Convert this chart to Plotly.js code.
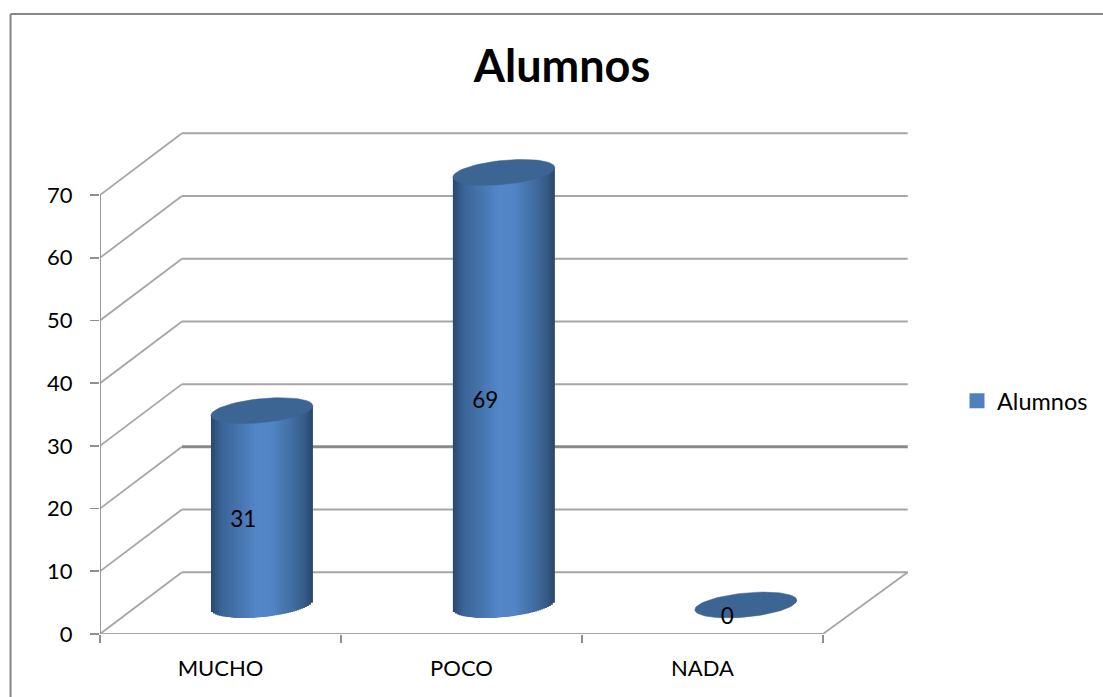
<!DOCTYPE html>
<html><head><meta charset="utf-8">
<script src="https://cdn.plot.ly/plotly-3.0.1.min.js"></script>
<style>html,body{margin:0;padding:0;background:#fff;overflow:hidden}#c{width:1103px;height:697px}</style>
</head><body><div id="c"></div>
<script>
var categories = ["MUCHO", "POCO", "NADA"];
var seriesName = "Alumnos";
var values = [31, 69, 0];
var yTicks = [0, 10, 20, 30, 40, 50, 60, 70];
var heavyGrid = [20];

// layout of the pseudo-3D box, in data units
var depthX = 0.34, depthXRight = 0.352, depthY = 9.85;
var cylA = 0.2116, cylB = 1.92, cylK = 0.75;
var xMax = 3.353, yMax = 80.38;
var gridColor = "#a6a6a6", axisColor = "#8f8f8f", font = "Lato, Carlito, sans-serif";
var stops = [[-1,[40,72,110]],[-0.8,[58,100,150]],[-0.5,[68,114,170]],[-0.1,[83,135,200]],[0.2,[81,133,197]],[0.6,[65,109,160]],[0.85,[53,90,133]],[1,[40,70,105]]];

function shade(u){
  for (var i=1;i<stops.length;i++){ if(u<=stops[i][0]){
    var t=(u-stops[i-1][0])/(stops[i][0]-stops[i-1][0]), a=stops[i-1][1], b=stops[i][1];
    return "rgb("+a.map(function(v,j){return Math.round(v+(b[j]-v)*t);}).join(",")+")";
  }}
  return "rgb(40,70,105)";
}
var shapes = [];
function seg(x0,y0,x1,y1,c,w){ shapes.push({type:"line",xref:"x",yref:"y",layer:"below",x0:x0,y0:y0,x1:x1,y1:y1,line:{color:c,width:w}}); }
yTicks.forEach(function(v){
  var heavy = heavyGrid.indexOf(v)>=0;
  seg(0,v,depthX,v+depthY,gridColor,1.8);
  seg(depthX,v+depthY,categories.length+depthXRight,v+depthY,heavy?"#8a8a8a":gridColor,heavy?3:2);
});
seg(0,0,categories.length,0,gridColor,2);
seg(categories.length,0,categories.length+depthXRight,depthY,gridColor,1.8);
seg(0,0,0,yTicks[yTicks.length-1],axisColor,1.8);
// outer chart border
shapes.push({type:"line",xref:"paper",yref:"paper",x0:-0.1107,x1:1.25,y0:1.2302,y1:1.2302,line:{color:"#868686",width:2}});
shapes.push({type:"line",xref:"paper",yref:"paper",x0:-0.1107,x1:-0.1107,y0:1.2302,y1:-0.13,line:{color:"#868686",width:2}});

var traces = [], N = 51, U0 = -0.4;
values.forEach(function(v,i){
  var cx = i*1.004+0.672, cy = depthY/2 - 0.3;
  if (v>0){
    // strips are painted from both outer edges toward the lowest point of the base, each covering the next
    var order=[];
    for (var s=0;s<N;s++) order.push(-1+(s+0.5)*2/N);
    order.sort(function(a,b){return Math.abs(b-U0)-Math.abs(a-U0);});
    var xs=[],ys=[],bs=[],cs=[],ws=[];
    order.forEach(function(u){
      var outer = u<U0 ? u-1/N : u+1/N, lo=Math.min(outer,U0), hi=Math.max(outer,U0);
      var base=cy+cylK*u-cylB*Math.sqrt(1-u*u);
      xs.push(cx+cylA*(lo+hi)/2); ws.push(cylA*(hi-lo)); bs.push(base); ys.push(cy+v+cylK*u-base); cs.push(shade(u));
    });
    traces.push({type:"bar",x:xs,y:ys,base:bs,width:ws,marker:{color:cs,line:{width:0}},showlegend:false,hoverinfo:"skip"});
  }
  var ex=[],ey=[];
  for (var k=0;k<=72;k++){
    var t=k/72*2*Math.PI, c=Math.cos(t);
    ex.push(cx+cylA*c); ey.push(cy+v+cylK*c+cylB*Math.sin(t));
  }
  traces.push({type:"scatter",mode:"lines",x:ex,y:ey,fill:"toself",fillcolor:"#3c6594",line:{color:"#3c6594",width:0.5},showlegend:false,hoverinfo:"skip"});
});
traces.push({type:"scatter",mode:"text",x:values.map(function(v,i){return i*1.004+0.595;}),y:values.map(function(v){return v/2+2.5;}),
  text:values.map(String),textfont:{family:font,size:22.5,color:"#000"},textposition:"middle center",showlegend:false,hoverinfo:"skip",cliponaxis:false});
traces.push({type:"scatter",mode:"markers",name:seriesName,x:[null],y:[null],marker:{symbol:"square",size:15,color:"#4f81bd"},showlegend:true});

Plotly.newPlot("c",traces,{
  width:1103,height:697,paper_bgcolor:"#fff",plot_bgcolor:"rgba(0,0,0,0)",
  margin:{l:100,t:130,r:195,b:63,pad:0},barmode:"overlay",shapes:shapes,
  title:{text:"<b>"+seriesName+"</b>",font:{family:font,size:45,color:"#000"},x:562/1103,xanchor:"center",y:1-66/697,yanchor:"middle"},
  xaxis:{range:[0,xMax],tickvals:categories.map(function(c,i){return i+0.5;}),ticktext:categories,ticks:"",showgrid:false,zeroline:false,showline:false,
    tickfont:{family:font,size:22,color:"#000"},ticklabelstandoff:19,fixedrange:true,
    minor:{tickvals:[0,1,2,3],ticks:"outside",ticklen:8,tickcolor:axisColor,tickwidth:1.6,showgrid:false}},
  yaxis:{range:[0,yMax],tickvals:yTicks,ticks:"outside",ticklen:9,tickcolor:axisColor,tickwidth:1.6,showgrid:false,zeroline:false,showline:false,
    tickfont:{family:font,size:22,color:"#000"},ticklabelstandoff:13,fixedrange:true},
  legend:{xref:"container",yref:"container",x:957/1103,y:1-401/697,xanchor:"left",yanchor:"middle",font:{family:font,size:23.5,color:"#000"},bgcolor:"rgba(0,0,0,0)"},
  showlegend:true
},{staticPlot:true,displayModeBar:false});
</script></body></html>
